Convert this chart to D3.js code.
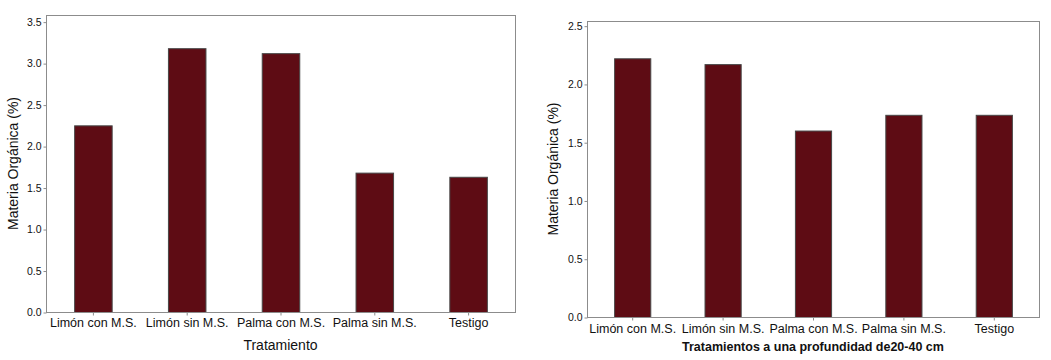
<!DOCTYPE html>
<html><head><meta charset="utf-8">
<script src="https://cdn.jsdelivr.net/npm/d3@7"></script>
<style>body{margin:0;background:#fff}svg{display:block}text{font-family:"Liberation Sans",Arial,sans-serif;fill:#111}</style>
</head><body><svg id="c" width="1051" height="360"></svg>
<script>
const categories = ["Limón con M.S.", "Limón sin M.S.", "Palma con M.S.", "Palma sin M.S.", "Testigo"];
const valuesLeft = [2.25, 3.18, 3.12, 1.68, 1.63];
const valuesRight = [2.22, 2.17, 1.60, 1.735, 1.735];
const ticksLeft = [0, 0.5, 1.0, 1.5, 2.0, 2.5, 3.0, 3.5];
const ticksRight = [0, 0.5, 1.0, 1.5, 2.0, 2.5];
const yTitle = "Materia Orgánica (%)";
const xTitleLeft = "Tratamiento";
const xTitleRight = "Tratamientos a una profundidad de20-40 cm";

const svg = d3.select("#c");

function panel(o) {
  const g = svg.append("g");
  const x = d3.scaleBand().domain(categories).range([o.x0, o.x1]).paddingInner(0.6).paddingOuter(0.3);
  const y = d3.scaleLinear().domain([0, o.ymax]).range([o.y1, o.y0]);
  // bars
  g.selectAll("rect.bar").data(o.values).join("rect").attr("class", "bar")
    .attr("x", (d, i) => x(categories[i]) + 0.5)
    .attr("y", d => y(d) + 0.5)
    .attr("width", x.bandwidth())
    .attr("height", d => y(0) - y(d))
    .attr("fill", "#5e0c14").attr("stroke", "#474747").attr("stroke-width", 1);
  // frame
  g.append("rect").attr("x", o.x0 + 0.5).attr("y", o.y0 + 0.5)
    .attr("width", o.x1 - o.x0).attr("height", o.y1 - o.y0)
    .attr("fill", "none").attr("stroke", "#8c8c8c").attr("stroke-width", 1);
  // y axis
  const ya = g.append("g").attr("transform", `translate(${o.x0 + 0.5},0.5)`)
    .call(d3.axisLeft(y).tickValues(o.ticks).tickFormat(d3.format(".1f")).tickSize(3).tickPadding(2));
  ya.select(".domain").remove();
  ya.selectAll("line").attr("stroke", "#8c8c8c");
  ya.selectAll("text").attr("font-size", "10.5px").attr("fill", "#111").style("font-family", '"Liberation Sans",Arial,sans-serif');
  // x axis
  const xa = g.append("g").attr("transform", `translate(0.5,${o.y1 + 0.5})`)
    .call(d3.axisBottom(x).tickSize(3).tickPadding(o.xpad));
  xa.select(".domain").remove();
  xa.selectAll("line").attr("stroke", "#8c8c8c");
  xa.selectAll("text").attr("font-size", "12.5px").attr("fill", "#111").style("font-family", '"Liberation Sans",Arial,sans-serif');
  // titles
  g.append("text").attr("x", (o.x0 + o.x1) / 2).attr("y", o.xtY).attr("text-anchor", "middle")
    .attr("font-size", o.xtSize).attr("font-weight", o.xtWeight).text(o.xTitle);
  g.append("text").attr("transform", `translate(${o.ytX},${(o.y0 + o.y1) / 2}) rotate(-90)`)
    .attr("text-anchor", "middle").attr("font-size", "14px").text(yTitle);
}

panel({x0: 46, x1: 515, y0: 15, y1: 312, ymax: 3.58, values: valuesLeft, ticks: ticksLeft,
  xpad: 3, xTitle: xTitleLeft, xtY: 350, xtSize: "14px", xtWeight: "normal", ytX: 18});
panel({x0: 587, x1: 1039, y0: 21, y1: 317, ymax: 2.54, values: valuesRight, ticks: ticksRight,
  xpad: 4, xTitle: xTitleRight, xtY: 351, xtSize: "12.5px", xtWeight: "bold", ytX: 558});
</script></body></html>
